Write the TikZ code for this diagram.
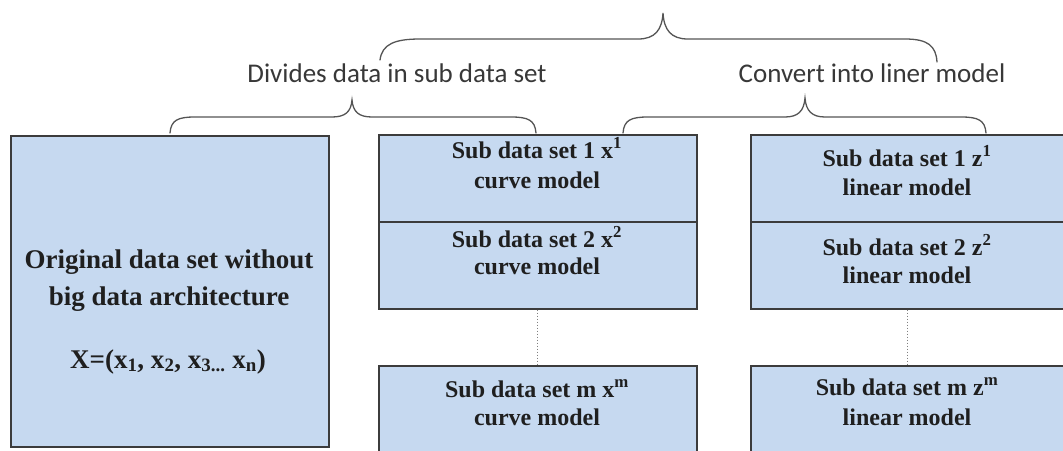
\documentclass[tikz,border=0pt]{standalone}
\usepackage{fontspec}
\setmainfont{Liberation Serif}
\newfontfamily\labfont{Carlito}
\definecolor{boxfill}{RGB}{198,217,240}
\definecolor{boxline}{RGB}{60,60,60}
\definecolor{bracecol}{RGB}{85,85,85}
\tikzset{
  databox/.style={draw=boxline, line width=1.5pt, fill=boxfill, rectangle, inner sep=0pt, anchor=north west},
  boxtext/.style={font=\bfseries\fontsize{24}{29}\selectfont, text=black!88, anchor=base, inner sep=0pt},
  bigtext/.style={font=\bfseries\fontsize{27}{32}\selectfont, text=black!88, anchor=base, inner sep=0pt},
  labeltext/.style={font=\labfont\fontsize{27}{32}\selectfont, text=black!78, anchor=base, inner sep=0pt},
  bracestyle/.style={draw=bracecol, line width=1.3pt, line cap=round},
  dotline/.style={draw=gray, line width=1pt, dotted}
}
\begin{document}
\begin{tikzpicture}[x=1pt,y=-1pt]
\useasboundingbox (0,0) rectangle (1063,450);
\clip (0,0) rectangle (1063,450);
\fill[white] (0,0) rectangle (1063,450);

% boxes
\node[databox, minimum width=318pt, minimum height=311pt] (orig) at (10,135) {};
\node[databox, minimum width=318pt, minimum height=87pt] (mA) at (378,134) {};
\node[databox, minimum width=318pt, minimum height=87pt] (mB) at (378,221) {};
\node[databox, minimum width=318pt, minimum height=100pt] (mM) at (378,365) {};
\node[databox, minimum width=314pt, minimum height=87pt] (rA) at (750,134) {};
\node[databox, minimum width=314pt, minimum height=87pt] (rB) at (750,221) {};
\node[databox, minimum width=314pt, minimum height=100pt] (rM) at (750,365) {};

% dotted connectors
\draw[dotline] (mB.south) -- (mM.north);
\draw[dotline] (rB.south) -- (rM.north);

% left text
\node[bigtext] (o1) at (169,268) {Original data set without};
\node[bigtext] (o2) at (169,305) {big data architecture};
\node[bigtext] (o3) at (168,368) {X=(x\textsubscript{1}, x\textsubscript{2}, x\textsubscript{3...} x\textsubscript{n})};

% middle text
\node[boxtext] (ma1) at (537,158) {Sub data set 1 x\textsuperscript{1}};
\node[boxtext] (ma2) at (537,188) {curve model};
\node[boxtext] (mb1) at (537,247) {Sub data set 2 x\textsuperscript{2}};
\node[boxtext] (mb2) at (537,274) {curve model};
\node[boxtext] (mm1) at (537,397) {Sub data set m x\textsuperscript{m}};
\node[boxtext] (mm2) at (537,425) {curve model};

% right text
\node[boxtext] (ra1) at (907,166) {Sub data set 1 z\textsuperscript{1}};
\node[boxtext] (ra2) at (907,195) {linear model};
\node[boxtext] (rb1) at (907,255) {Sub data set 2 z\textsuperscript{2}};
\node[boxtext] (rb2) at (907,283) {linear model};
\node[boxtext] (rm1) at (907,395) {Sub data set m z\textsuperscript{m}};
\node[boxtext] (rm2) at (907,425) {linear model};

% labels
\node[labeltext] (lab1) at (397,82) {Divides data in sub data set};
\node[labeltext] (lab2) at (872,82) {Convert into liner model};

% braces
\draw[bracestyle] (170,133) .. controls (171,120) and (178,117) .. (195,117) -- (332,117)
  .. controls (345,117) and (351,112) .. (352,100)
  .. controls (353,112) and (359,117) .. (372,117) -- (511,117)
  .. controls (528,117) and (535,120) .. (536,133);
\draw[bracestyle] (623,133) .. controls (624,120) and (631,117) .. (648,117) -- (785,117)
  .. controls (798,117) and (804,111) .. (805,98)
  .. controls (806,111) and (812,117) .. (825,117) -- (961,117)
  .. controls (978,117) and (985,120) .. (986,133);
\draw[bracestyle] (380,60) .. controls (382,44) and (395,39) .. (420,39) -- (638,39)
  .. controls (655,39) and (662,30) .. (663,13)
  .. controls (664,30) and (671,39) .. (688,39) -- (905,39)
  .. controls (928,39) and (936,46) .. (937,62);
\end{tikzpicture}
\end{document}
